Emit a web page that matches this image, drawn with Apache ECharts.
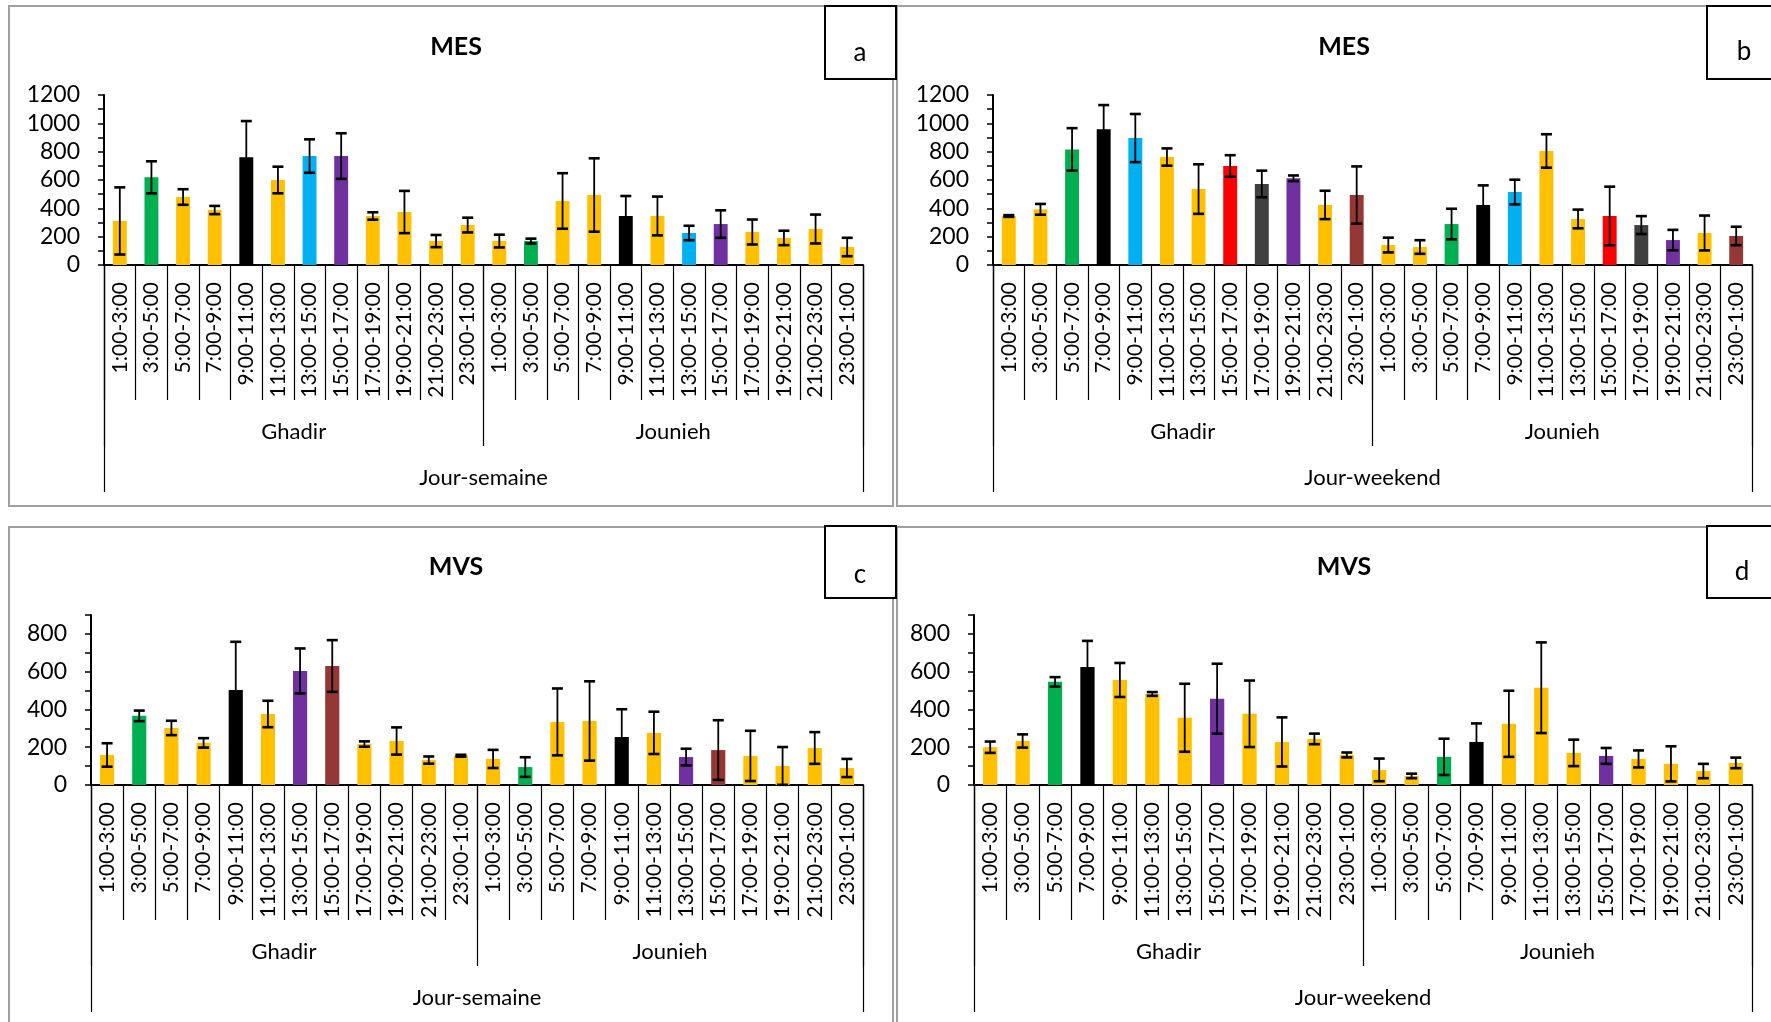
<!DOCTYPE html>
<html><head><meta charset="utf-8">
<script src="https://cdn.jsdelivr.net/npm/echarts@6/dist/echarts.min.js"></script>
<style>html,body{margin:0;padding:0;background:#fff}#c{width:1771px;height:1022px}</style>
</head><body><div id="c"></div>
<script>
const timeSlots = ['1:00-3:00','3:00-5:00','5:00-7:00','7:00-9:00','9:00-11:00','11:00-13:00','13:00-15:00','15:00-17:00','17:00-19:00','19:00-21:00','21:00-23:00','23:00-1:00'];
const sites = ['Ghadir','Jounieh'];
const dayTypes = ['Jour-semaine','Jour-weekend'];
const titles = ['MES','MES','MVS','MVS'];
const panelLetters = ['a','b','c','d'];
const mesTicks = [0,200,400,600,800,1000,1200];
const mvsTicks = [0,200,400,600,800];

// Panel a: MES, weekdays
const mesWeekMean = [311,619,480,388,760,600,769,769,346,374,169,282, 169,169,452,494,346,346,226,289,233,191,254,127];
const mesWeekSd   = [237,113,55,29,256,94,118,161,26,149,43,52, 45,17,196,259,141,137,51,97,88,51,102,65];
const mesWeekColors = 'YGYYKYBPYYYYYGYYKYBPYYYY';
// Panel b: MES, weekend
const mesWkndMean = [346,393,816,958,896,762,536,699,572,612,424,494, 141,127,289,424,515,805,325,346,282,176,226,205];
const mesWkndSd   = [6,38,150,171,170,61,175,76,94,20,100,202, 52,48,108,138,87,118,66,207,63,72,123,65];
const mesWkndColors = 'YYGKBYYRDPYMYYGKBYYRDPYM';
// Panel c: MVS, weekdays
const mvsWeekMean = [159,366,302,223,503,376,604,630,217,233,132,155, 138,95,334,339,254,276,148,185,154,101,196,90];
const mvsWeekSd   = [62,28,38,25,255,70,119,137,14,72,19,5, 48,52,177,210,147,112,44,158,133,100,84,48];
const mvsWeekColors = 'YGYYKYPMYYYYYGYYKYPMYYYY';
// Panel d: MVS, weekend
const mvsWkndMean = [200,233,546,625,556,482,356,457,377,228,244,159, 80,48,149,228,324,515,170,154,138,112,74,117];
const mvsWkndSd   = [30,35,25,138,90,10,180,185,176,130,28,13, 60,12,96,98,175,240,70,42,45,93,38,28];
const mvsWkndColors = 'YYGKYYYPYYYYYYGKYYYPYYYY';

const palette = {Y:'#FFC000',G:'#00B050',K:'#000000',B:'#00B0F0',P:'#7030A0',R:'#FF0000',D:'#404040',M:'#953735'};
const categories = sites.flatMap(() => timeSlots);

const panels = [
  {mean:mesWeekMean, sd:mesWeekSd, colors:mesWeekColors, ticks:mesTicks, max:1200, day:0, grid:{left:104, width:759, top:95, height:170}, title:[451,29], box:[825,6,71,73], letter:[860,53]},
  {mean:mesWkndMean, sd:mesWkndSd, colors:mesWkndColors, ticks:mesTicks, max:1200, day:1, grid:{left:993, width:759, top:95, height:170}, title:[1339,29], box:[1707,6,100,73], letter:[1744,52]},
  {mean:mvsWeekMean, sd:mvsWeekSd, colors:mvsWeekColors, ticks:mvsTicks, max:900, day:0, grid:{left:91, width:772, top:615, height:170}, title:[451,549], box:[825,526,71,72], letter:[860,575]},
  {mean:mvsWkndMean, sd:mvsWkndSd, colors:mvsWkndColors, ticks:mvsTicks, max:900, day:1, grid:{left:974, width:778, top:615, height:170}, title:[1339,549], box:[1707,526,100,72], letter:[1742,572]}
];

const FONT = 'Lato';
const grids = [], xAxes = [], yAxes = [], series = [], titleOpts = [], graphics = [];
const frames = [[9,6,884,500],[897,6,900,500],[9,527,884,520],[897,527,900,520]];
frames.forEach(f => graphics.push({type:'rect', z:-10, shape:{x:f[0],y:f[1],width:f[2],height:f[3]}, style:{fill:'#fff', stroke:'#a0a0a0', lineWidth:2}}));

function renderErr(params, api) {
  const x = api.value(0), lo = api.value(1), hi = api.value(2);
  const p1 = api.coord([x, hi]), p2 = api.coord([x, lo]);
  const hw = 5.5;
  const s = {stroke:'#000', lineWidth:1.8};
  const c = {stroke:'#000', lineWidth:2.6};
  return {type:'group', children:[
    {type:'line', shape:{x1:p1[0],y1:p1[1],x2:p2[0],y2:p2[1]}, style:s},
    {type:'line', shape:{x1:p1[0]-hw,y1:p1[1],x2:p1[0]+hw,y2:p1[1]}, style:c},
    {type:'line', shape:{x1:p2[0]-hw,y1:p2[1],x2:p2[0]+hw,y2:p2[1]}, style:c}
  ]};
}

panels.forEach((p, g) => {
  grids.push(Object.assign({containLabel:false}, p.grid));
  const base = g * 3;
  xAxes.push({gridIndex:g, type:'category', data:categories, position:'bottom',
    axisLine:{lineStyle:{color:'#000', width:2}},
    axisTick:{show:true, interval:0, length:135, lineStyle:{color:'#000', width:1.2}},
    axisLabel:{interval:0, rotate:90, margin:17, fontFamily:FONT, fontSize:21, color:'#000'}});
  xAxes.push({gridIndex:g, type:'category', data:sites, position:'bottom',
    axisLine:{show:false},
    axisTick:{show:true, interval:0, length:181, lineStyle:{color:'#000', width:1.2}},
    axisLabel:{interval:0, margin:156, fontFamily:FONT, fontSize:22, color:'#000'}});
  xAxes.push({gridIndex:g, type:'category', data:[dayTypes[p.day]], position:'bottom',
    axisLine:{show:false},
    axisTick:{show:true, interval:0, length:227, lineStyle:{color:'#000', width:1.2}},
    axisLabel:{interval:0, margin:202, fontFamily:FONT, fontSize:22, color:'#000'}});
  yAxes.push({gridIndex:g, type:'value', min:0, max:p.max, interval:100,
    axisLine:{show:true, lineStyle:{color:'#000', width:2}},
    axisTick:{show:true, length:6, lineStyle:{color:'#000', width:1.5}},
    splitLine:{show:false},
    axisLabel:{margin:24, fontFamily:FONT, fontSize:23, color:'#000',
      formatter: v => p.ticks.includes(v) ? String(v) : ''}});
  series.push({type:'bar', xAxisIndex:base, yAxisIndex:g, barWidth:'44%',
    data:p.mean.map((v,i) => ({value:v, itemStyle:{color:palette[p.colors[i]]}})), z:2});
  series.push({type:'custom', xAxisIndex:base, yAxisIndex:g, renderItem:renderErr, z:5,
    encode:{x:0, y:[1,2]},
    data:p.mean.map((v,i) => [i, Math.max(0, v - p.sd[i]), v + p.sd[i]])});
  titleOpts.push({text:titles[g], left:p.title[0], top:p.title[1], textAlign:'center',
    textStyle:{fontFamily:FONT, fontWeight:'bold', fontSize:25, color:'#000'}});
  graphics.push({type:'rect', z:100, shape:{x:p.box[0], y:p.box[1], width:p.box[2], height:p.box[3]}, style:{fill:'#fff', stroke:'#000', lineWidth:2}});
  graphics.push({type:'text', z:101, x:p.letter[0], y:p.letter[1], style:{text:panelLetters[g], fontFamily:FONT, fontSize:26, fill:'#000', align:'center', verticalAlign:'middle'}});
});

const chart = echarts.init(document.getElementById('c'), null, {renderer:'canvas'});
chart.setOption({
  animation:false,
  backgroundColor:'#fff',
  title:titleOpts,
  grid:grids,
  xAxis:xAxes,
  yAxis:yAxes,
  series:series,
  graphic:graphics
});
</script></body></html>
